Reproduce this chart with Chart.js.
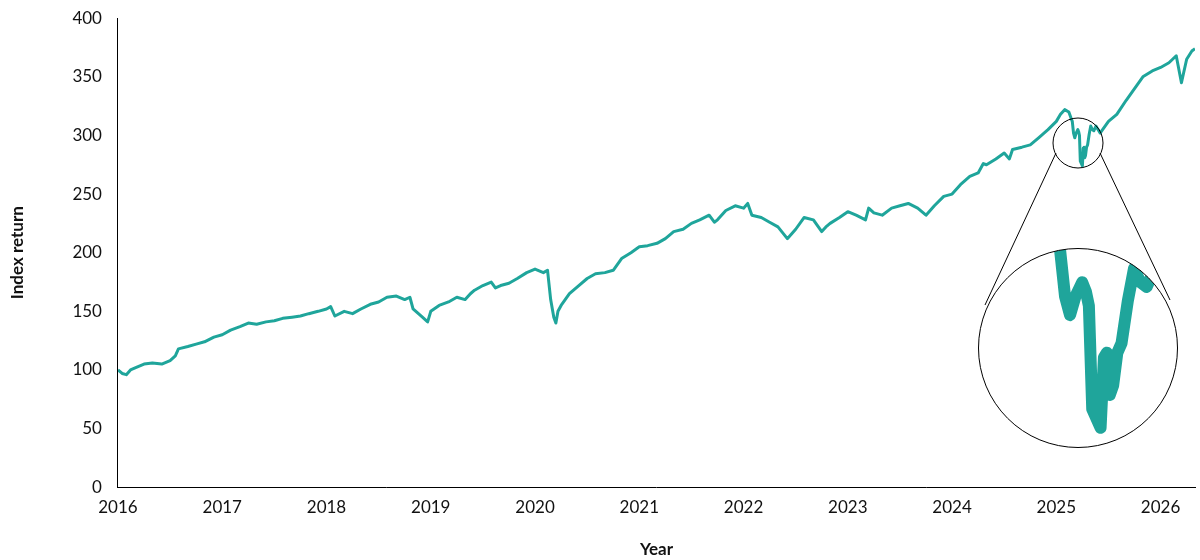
<!DOCTYPE html>
<html><head><meta charset="utf-8">
<script src="https://cdn.jsdelivr.net/npm/chart.js@4"></script>
<style>body{margin:0;background:#fff}#wrap{position:relative;width:1200px;height:560px;overflow:hidden}
#c{position:absolute;left:0;top:-8px}
#zoom{position:absolute;left:978px;top:248px}</style></head>
<body><div id="wrap"><canvas id="c" width="1200" height="568"></canvas><canvas id="zoom" width="200" height="200"></canvas></div>
<script>
const years=[2016,2016.04,2016.08,2016.12,2016.17,2016.25,2016.33,2016.42,2016.5,2016.55,2016.58,2016.67,2016.75,2016.83,2016.92,
2017,2017.08,2017.17,2017.25,2017.33,2017.42,2017.5,2017.58,2017.67,2017.75,2017.83,2017.92,
2018,2018.04,2018.08,2018.17,2018.25,2018.33,2018.42,2018.5,2018.58,2018.67,2018.75,2018.8,2018.83,2018.92,2018.97,
2019,2019.08,2019.17,2019.25,2019.33,2019.38,2019.42,2019.5,2019.58,2019.62,2019.67,2019.75,2019.83,2019.92,
2020,2020.08,2020.12,2020.15,2020.18,2020.2,2020.22,2020.25,2020.33,2020.42,2020.5,2020.58,2020.67,2020.75,2020.83,2020.92,
2021,2021.08,2021.17,2021.25,2021.33,2021.42,2021.5,2021.58,2021.67,2021.72,2021.75,2021.83,2021.92,
2022,2022.04,2022.08,2022.17,2022.25,2022.33,2022.42,2022.5,2022.58,2022.67,2022.75,2022.79,2022.83,2022.92,
2023,2023.08,2023.17,2023.2,2023.25,2023.33,2023.42,2023.5,2023.58,2023.67,2023.75,2023.83,2023.92,
2024,2024.08,2024.17,2024.25,2024.3,2024.33,2024.42,2024.5,2024.55,2024.58,2024.67,2024.75,2024.83,2024.92,
2025,2025.04,2025.08,2025.12,2025.14,2025.153,2025.165,2025.177,2025.19,2025.206,2025.215,2025.222,2025.23,2025.25,2025.258,2025.265,2025.272,2025.28,2025.29,2025.3,2025.315,2025.33,2025.345,2025.36,2025.38,2025.42,2025.5,2025.58,2025.67,2025.75,2025.83,2025.92,
2026,2026.08,2026.15,2026.2,2026.25,2026.3,2026.33];
const values=[100,97,96,100,102,105,106,105,108,112,118,120,122,124,128,
130,134,137,140,139,141,142,144,145,146,148,150,
152,154,146,150,148,152,156,158,162,163,160,162,152,145,141,
150,155,158,162,160,165,168,172,175,170,172,174,178,183,
186,183,185,160,145,140,150,155,165,172,178,182,183,185,195,200,
205,206,208,212,218,220,225,228,232,226,228,236,240,
238,242,232,230,226,222,212,220,230,228,218,222,225,230,
235,232,228,238,234,232,238,240,242,238,232,240,248,
250,258,265,268,276,275,280,285,280,288,290,292,298,305,
312,318,322,320,315,312,302,298,302,305,303,300,278,274,289,290,281,283,290,292,301,308,305,304,308,302,312,318,330,340,350,355,
358,362,368,345,365,372,374];
const yTicks=[0,50,100,150,200,250,300,350,400];
const xTicks=[2016,2017,2018,2019,2020,2021,2022,2023,2024,2025,2026];
const pts=years.map((x,i)=>({x,y:values[i]}));
const teal='#1fa59b';
const font={family:'Lato',size:17};
const lens={id:'lens',afterDraw(ch){const c=ch.ctx;c.save();c.strokeStyle='#000';c.lineWidth=1;c.translate(0,8);
c.beginPath();c.arc(1078,143,25,0,Math.PI*2);c.stroke();
c.beginPath();c.moveTo(1056,153);c.lineTo(985,305);c.moveTo(1100,153);c.lineTo(1170,300);c.stroke();c.restore();}};
new Chart(document.getElementById('c'),{type:'line',data:{datasets:[{data:pts,borderColor:teal,borderWidth:3,pointRadius:0,tension:0,borderJoinStyle:'round'}]},
options:{responsive:false,animation:false,layout:{padding:{top:3,right:5,left:5}},plugins:{legend:{display:false},tooltip:{enabled:false}},
scales:{x:{type:'linear',min:2016,max:2026.33,afterBuildTicks:s=>{s.ticks=xTicks.map(v=>({value:v}))},
grid:{display:false,drawTicks:false},border:{color:'#000'},ticks:{font,color:'#111',padding:10,callback:v=>String(v)},
title:{display:true,text:'Year',font:{family:'Lato',size:17,weight:'bold'},color:'#111',padding:{top:12,bottom:0}}},
y:{min:0,max:400,afterBuildTicks:s=>{s.ticks=yTicks.map(v=>({value:v}))},grid:{display:false,drawTicks:false},border:{color:'#000'},
ticks:{font,color:'#111',padding:16},title:{display:true,text:'Index return',font:{family:'Lato',size:17,weight:'bold'},color:'#111',padding:{top:2,bottom:29}}}}},
plugins:[lens]});
const circ={id:'circ',beforeDatasetsDraw(ch){const c=ch.ctx;c.save();c.beginPath();c.arc(100,100,99.5,0,Math.PI*2);c.fillStyle='#fff';c.fill();c.clip();},
afterDatasetsDraw(ch){const c=ch.ctx;c.restore();c.beginPath();c.arc(100,100,99.5,0,Math.PI*2);c.strokeStyle='#000';c.lineWidth=1;c.stroke();}};
new Chart(document.getElementById('zoom'),{type:'line',data:{datasets:[{data:pts,borderColor:teal,borderWidth:12,pointRadius:0,tension:0,borderJoinStyle:'round',borderCapStyle:'round'}]},
options:{responsive:false,animation:false,layout:{padding:0},plugins:{legend:{display:false},tooltip:{enabled:false}},
scales:{x:{type:'linear',display:false,min:2024.957,max:2025.435},y:{display:false,min:269.7,max:312.3}}},plugins:[circ]});
</script></body></html>
